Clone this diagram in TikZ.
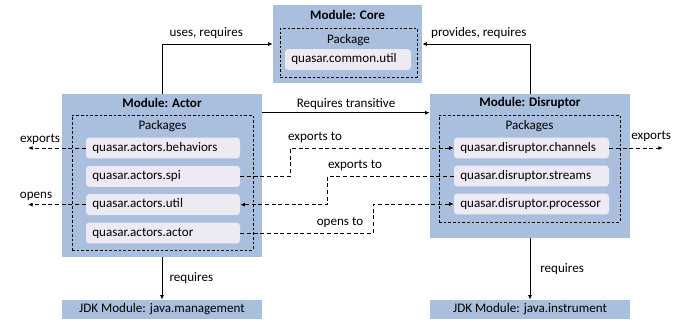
\documentclass[tikz,border=0pt]{standalone}
\usepackage{fontspec}
\setmainfont{Carlito}
\usetikzlibrary{arrows.meta}
\definecolor{modblue}{HTML}{A9BFDD}
\definecolor{pkgfill}{HTML}{EDEAF4}

\begin{document}
\begin{tikzpicture}[x=0.75pt,y=-0.75pt,font=\fontsize{9.8}{11}\selectfont,
    modbox/.style={fill=modblue,inner sep=0pt},
    modtitle/.style={font=\fontsize{9.8}{11}\selectfont\bfseries},
    pkgarea/.style={draw,dash pattern=on 2pt off 1.5pt,line width=0.6pt,inner sep=0pt},
    pkg/.style={fill=pkgfill,rounded corners=2.5pt,inner xsep=4.75pt,text width=#1,
        align=left,minimum height=15pt,text height=7pt,text depth=2pt},
    req/.style={-{Latex[length=3.5pt,width=3pt]},line width=0.7pt},
    exp/.style={req,dash pattern=on 3pt off 2pt}]
    \useasboundingbox (0,0) rectangle (673,323);
    % module core
    \node[modbox,minimum width=111.75pt,minimum height=58.5pt] (core) at (347.5,44) {};
    \node[pkgarea,minimum width=102.75pt,minimum height=36.75pt] (coreIn) at (348.5,52.5) {};
    \node[modtitle] (coreT) at (347.5,15) {Module: Core};
    \node (coreP) at (348.5,40) {Package};
    \node[pkg=85pt] (cu) at (348,59.5) {quasar.common.util};
    % module actor
    \node[modbox,minimum width=150pt,minimum height=122.25pt] (actor) at (162,175.5) {};
    \node[pkgarea,minimum width=135.75pt,minimum height=101.25pt] (actorIn) at (162.5,182.5) {};
    \node[modtitle] (actorT) at (162,103) {Module: Actor};
    \node (actorP) at (162.5,126) {Packages};
    \foreach \n/\t [count=\i] in {ab/behaviors,as/spi,au/util,aa/actor}
        \node[pkg=106pt] (\n) at (163,{148+28.33*(\i-1)}) {quasar.actors.\t};
    % module disruptor
    \node[modbox,minimum width=150pt,minimum height=108pt] (disr) at (530,166) {};
    \node[pkgarea,minimum width=135.75pt,minimum height=80.25pt] (disrIn) at (529.5,168.5) {};
    \node[modtitle] (disrT) at (530,103) {Module: Disruptor};
    \node (disrP) at (529.5,126) {Packages};
    \foreach \n/\t [count=\i] in {dc/channels,ds/streams,dp/processor}
        \node[pkg=106.75pt] (\n) at (531.5,{148+28*(\i-1)}) {quasar.disruptor.\t};
    % jdk modules
    \node[modbox,minimum width=150pt,minimum height=14.25pt] (jdkM) at (162,309.5) {JDK Module: java.management};
    \node[modbox,minimum width=150pt,minimum height=14.25pt] (jdkI) at (530,309.5) {JDK Module: java.instrument};
    % requires
    \draw[req] (actor.north) |- (core.west) node[pos=0.5,anchor=south west,xshift=2pt] {uses, requires};
    \draw[req] (disr.north) |- (core.east) node[pos=0.5,anchor=south east,xshift=1pt] {provides, requires};
    \draw[req] ([yshift=-14.25pt]actor.north east) -- ([yshift=-14.25pt]disr.north west)
        node[midway,above=-1pt] {Requires transitive};
    \draw[req] (actor.south) -- (jdkM.north) node[midway,right=2pt] {requires};
    \draw[req] (disr.south) -- (jdkI.north) node[midway,right=4pt] {requires};
    % exports and opens
    \coordinate (expL) at (28,148);
    \coordinate (opnL) at (28,204.66);
    \coordinate (expR) at (663,148);
    \draw[exp] (ab.west) -- (expL) node[pos=0.79,above=-1pt] {exports};
    \draw[exp] (au.west) -- (opnL) node[pos=0.86,above=-1pt] {opens};
    \draw[exp] (dc.east) -- (expR) node[pos=0.78,above=1pt] {exports};
    \draw[exp] (as.east) -- ++(50,0) |- (dc.west);
    \node (lblSpi) at (315,137) {exports to};
    \draw[exp] (ds.west) -- ++(-126,0) |- (au.east);
    \node (lblStr) at (355,165) {exports to};
    \draw[exp] (aa.east) -- ++(133,0) |- (dp.west);
    \node (lblAct) at (340,222) {opens to};
\end{tikzpicture}
\end{document}
